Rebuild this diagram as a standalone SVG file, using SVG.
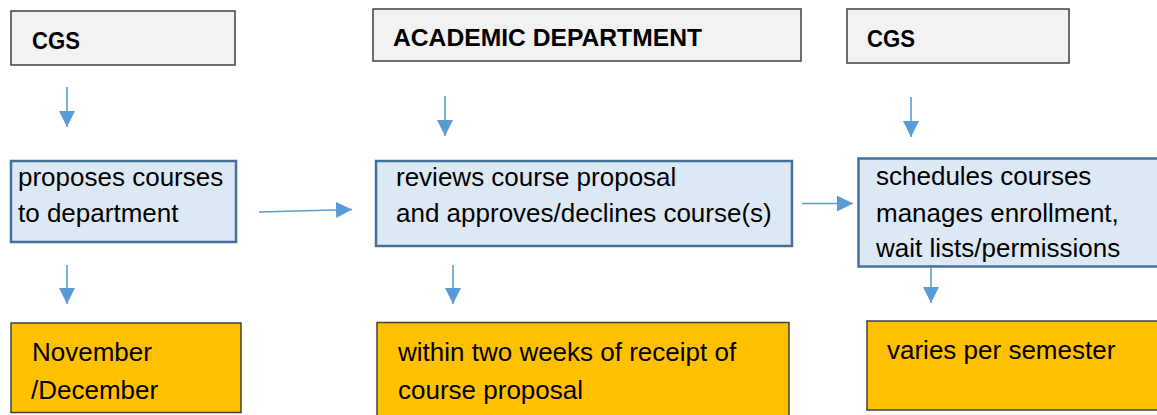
<svg xmlns="http://www.w3.org/2000/svg" width="1157" height="415" viewBox="0 0 1157 415">
<style>
.hdr{fill:#f2f2f2;stroke:#404040;stroke-width:1.5}
.act{fill:#dde8f5;stroke:#41719c;stroke-width:2.5}
.tim{fill:#ffc000;stroke:#404040;stroke-width:1.5}
.ht{font-family:"Liberation Sans",Arial,sans-serif;font-weight:bold;font-size:23.5px;fill:#000}
.bt{font-family:"Liberation Sans",Arial,sans-serif;font-size:26px;fill:#000}
.con{stroke:#5b9bd5;stroke-width:1.6;fill:none;marker-end:url(#ah)}
</style>
<defs>
<marker id="ah" markerUnits="userSpaceOnUse" markerWidth="16" markerHeight="16" refX="16" refY="8" orient="auto">
<path d="M0,0 L16,8 L0,16 z" fill="#5b9bd5"/>
</marker>
</defs>
<rect width="1157" height="415" fill="#fff"/>
<g id="hdr1"><rect class="hdr" x="11" y="11" width="224" height="54"/><text class="ht" x="32" y="49" textLength="48" lengthAdjust="spacingAndGlyphs">CGS</text></g>
<g id="hdr2"><rect class="hdr" x="373" y="9" width="428" height="52"/><text class="ht" x="393" y="46" textLength="309" lengthAdjust="spacingAndGlyphs">ACADEMIC DEPARTMENT</text></g>
<g id="hdr3"><rect class="hdr" x="847" y="9" width="222" height="54"/><text class="ht" x="867" y="46.5" textLength="48" lengthAdjust="spacingAndGlyphs">CGS</text></g>
<g id="act1"><rect class="act" x="11" y="161" width="225" height="81"/><text class="bt" x="18" y="186">proposes courses</text><text class="bt" x="18" y="222">to department</text></g>
<g id="act2"><rect class="act" x="376" y="161" width="416" height="85"/><text class="bt" x="396" y="186">reviews course proposal</text><text class="bt" x="396" y="222">and approves/declines course(s)</text></g>
<g id="act3"><rect class="act" x="858.5" y="158.5" width="310" height="108"/><text class="bt" x="876" y="185">schedules courses</text><text class="bt" x="876" y="221.5">manages enrollment,</text><text class="bt" x="876" y="257">wait lists/permissions</text></g>
<g id="time1"><rect class="tim" x="11" y="323" width="230" height="89.5"/><text class="bt" x="32" y="361">November</text><text class="bt" x="31" y="398.5">/December</text></g>
<g id="time2"><rect class="tim" x="377" y="322.5" width="412" height="110"/><text class="bt" x="398" y="361">within two weeks of receipt of</text><text class="bt" x="398" y="398.5">course proposal</text></g>
<g id="time3"><rect class="tim" x="867" y="321" width="310" height="89"/><text class="bt" x="887" y="359">varies per semester</text></g>
<g id="connectors">
<line class="con" x1="67" y1="87" x2="67" y2="127"/>
<line class="con" x1="445" y1="96" x2="445" y2="136"/>
<line class="con" x1="911" y1="97" x2="911" y2="137"/>
<line class="con" x1="259" y1="212" x2="352" y2="209.5"/>
<line class="con" x1="802" y1="203.5" x2="853" y2="203.5"/>
<line class="con" x1="67" y1="265" x2="67" y2="304"/>
<line class="con" x1="453" y1="265" x2="453" y2="304"/>
<line class="con" x1="931" y1="267" x2="931" y2="303"/>
</g>
</svg>
